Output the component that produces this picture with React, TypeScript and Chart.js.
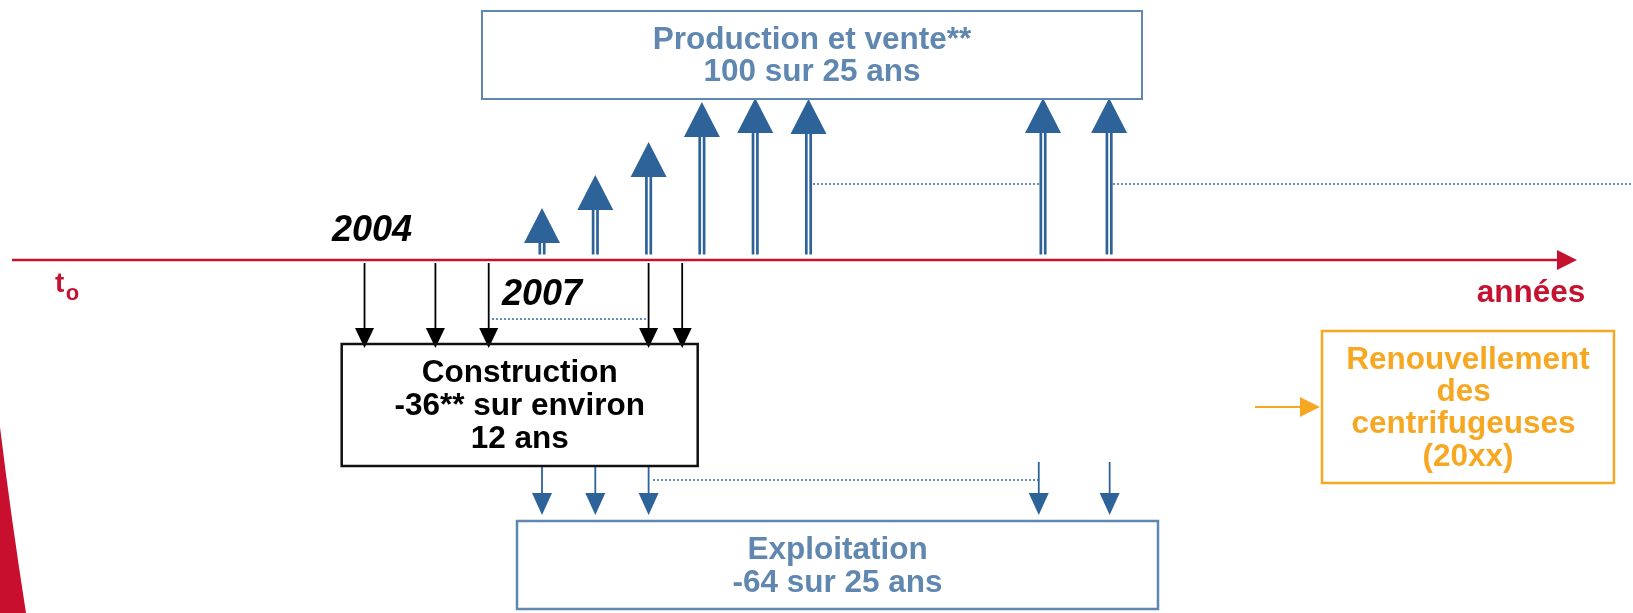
import React, { useEffect, useRef } from "react";
import { Chart, registerables } from "chart.js";

Chart.register(...registerables);

// ---------- scale ranges (x: years, y: schematic level, 0 = time axis) ----------
const X_MIN = 1996.831;
const X_MAX = 2027.469;
const Y_MIN = -353;
const Y_MAX = 260;

// ---------- data ----------
// Production et vente: up arrows (year, level reached)
const productionYears = [2007, 2008, 2009, 2010, 2011, 2012, 2016.4, 2017.64];
const productionLevels = [52, 85, 118, 158, 162, 161, 162, 162];
// Construction: black arrows from the time axis into the construction box
const constructionYears = [2003.67, 2005, 2006, 2009, 2009.63];
// Exploitation: blue arrows from construction into exploitation
const exploitationYears = [2007, 2008, 2009, 2016.32, 2017.65];
const exploitationStartLevels = [-206, -206, -206, -202, -202];

// Text
const productionLines = ["Production et vente**", "100 sur 25 ans"];
const constructionLines = ["Construction", "-36** sur environ", "12 ans"];
const exploitationLines = ["Exploitation", "-64 sur 25 ans"];
const renewalLines = ["Renouvellement", "des ", "centrifugeuses ", "(20xx)"];
const yearLabels = ["2004", "2007"];
const yearLabelYears = [2003.81, 2007.0];
const yearLabelLevels = [19, -45];
const axisStartLabel = "t";
const axisStartSub = "o";
const axisEndLabel = "années";

// ---------- layout (scale units) ----------
const AXIS = { from: 1997.056, headBase: 2026.043, tip: 2026.418 };
const BOX_PROD = { x0: 2005.874, x1: 2018.257, top: 249, bottom: 161 };
const BOX_CONS = { x0: 2003.242, x1: 2009.921, top: -84, bottom: -206 };
const BOX_EXPL = { x0: 2006.531, x1: 2018.557, top: -261, bottom: -349 };
const BOX_RENEW = { x0: 2021.634, x1: 2027.112, top: -71, bottom: -223 };
const DOT_PROD = [[2012.084, 2016.324], [2017.713, X_MAX]];
const DOT_PROD_LEVEL = 76;
const DOT_CONS = [[2006.062, 2008.951]];
const DOT_CONS_LEVEL = -59;
const DOT_EXPL = [[2009.082, 2016.306]];
const DOT_EXPL_LEVEL = -220;
const UP_SHAFT_BASE = 5.5;
const CONS_ARROW = { start: -3, headBase: -68, tip: -88 };
const EXPL_ARROW = { headBase: -233, tip: -255 };
const RENEW_ARROW = { from: 2020.377, headBase: 2021.22, tip: 2021.596, level: -147 };
const SWOOSH = [
  [X_MIN, -167],
  [1997.056, -257],
  [1997.319, -353],
  [X_MIN, -353],
];

// ---------- colours ----------
const RED = "#C41230";
const BLUE = "#2D6399";
const BOX_BLUE = "#5F87B0";
const DOT_BLUE = "#3A72B0";
const ORANGE = "#F7A823";
const FONT = "'Liberation Sans', Arial, Helvetica, sans-serif";

const diagramPlugin = {
  id: "diagram",
  afterDatasetsDraw(chart: any) {
    const ctx: CanvasRenderingContext2D = chart.ctx;
    const xs = chart.scales.x;
    const ys = chart.scales.y;
    const X = (v: number) => xs.getPixelForValue(v);
    const Y = (v: number) => ys.getPixelForValue(v);

    const tri = (pts: number[][], color: string) => {
      ctx.beginPath();
      ctx.moveTo(pts[0][0], pts[0][1]);
      for (let i = 1; i < pts.length; i++) ctx.lineTo(pts[i][0], pts[i][1]);
      ctx.closePath();
      ctx.fillStyle = color;
      ctx.fill();
    };
    const line = (x0: number, y0: number, x1: number, y1: number, color: string, w: number, dash: number[] = []) => {
      ctx.save();
      ctx.beginPath();
      ctx.setLineDash(dash);
      ctx.moveTo(x0, y0);
      ctx.lineTo(x1, y1);
      ctx.strokeStyle = color;
      ctx.lineWidth = w;
      ctx.stroke();
      ctx.restore();
    };
    const box = (b: any, color: string, w: number, lines: string[], textColor: string, gap: number) => {
      const x0 = X(b.x0), x1 = X(b.x1), y0 = Y(b.top), y1 = Y(b.bottom);
      ctx.save();
      ctx.strokeStyle = color;
      ctx.lineWidth = w;
      ctx.strokeRect(x0, y0, x1 - x0, y1 - y0);
      ctx.fillStyle = textColor;
      ctx.font = `bold 31.5px ${FONT}`;
      ctx.textAlign = "center";
      ctx.textBaseline = "alphabetic";
      const cx = (x0 + x1) / 2;
      lines.forEach((t, i) => ctx.fillText(t, cx, y0 + 37.5 + i * gap));
      ctx.restore();
    };

    ctx.save();

    // left red swoosh
    ctx.beginPath();
    ctx.moveTo(X(SWOOSH[0][0]), Y(SWOOSH[0][1]));
    ctx.quadraticCurveTo(X(SWOOSH[1][0]) - 1, Y(SWOOSH[1][1]), X(SWOOSH[2][0]), Y(SWOOSH[2][1]));
    ctx.lineTo(X(SWOOSH[3][0]), Y(SWOOSH[3][1]));
    ctx.closePath();
    ctx.fillStyle = "#C8102E";
    ctx.fill();

    // dotted continuation lines
    DOT_PROD.forEach(([a, b]) => line(X(a), Y(DOT_PROD_LEVEL), X(b), Y(DOT_PROD_LEVEL), DOT_BLUE, 1.6, [2, 2]));
    DOT_CONS.forEach(([a, b]) => line(X(a), Y(DOT_CONS_LEVEL), X(b), Y(DOT_CONS_LEVEL), DOT_BLUE, 1.6, [2, 2]));
    DOT_EXPL.forEach(([a, b]) => line(X(a), Y(DOT_EXPL_LEVEL), X(b), Y(DOT_EXPL_LEVEL), DOT_BLUE, 1.6, [2, 2]));

    // time axis
    const ay = Y(0);
    line(X(AXIS.from), ay, X(AXIS.headBase) + 1, ay, RED, 2.3);
    tri([[X(AXIS.tip), ay], [X(AXIS.headBase), ay - 10], [X(AXIS.headBase), ay + 10]], RED);

    // axis labels
    ctx.fillStyle = RED;
    ctx.textAlign = "left";
    ctx.textBaseline = "alphabetic";
    ctx.font = `bold 28px ${FONT}`;
    const tx = X(1997.863);
    ctx.fillText(axisStartLabel, tx, Y(-32));
    const tw = ctx.measureText(axisStartLabel).width;
    ctx.font = `bold 22px ${FONT}`;
    ctx.fillText(axisStartSub, tx + tw + 1.5, Y(-40));
    ctx.font = `bold 31.5px ${FONT}`;
    ctx.textAlign = "center";
    ctx.fillText(axisEndLabel, X(2025.555), Y(-42));

    // year labels
    ctx.fillStyle = "#000000";
    ctx.font = `italic bold 36px ${FONT}`;
    yearLabels.forEach((t, i) => ctx.fillText(t, X(yearLabelYears[i]), Y(yearLabelLevels[i])));

    // production up arrows (double shaft)
    const meta = chart.getDatasetMeta(0);
    meta.data.forEach((el: any) => {
      const x = el.x, tipY = el.y;
      const headH = 35, half = 18;
      const baseY = Y(UP_SHAFT_BASE);
      line(x - 2.2, baseY, x - 2.2, tipY + headH - 1, BLUE, 2.7);
      line(x + 2.2, baseY, x + 2.2, tipY + headH - 1, BLUE, 2.7);
      tri([[x, tipY], [x - half, tipY + headH], [x + half, tipY + headH]], BLUE);
    });

    // construction arrows (black)
    constructionYears.forEach((yr) => {
      const x = X(yr);
      line(x, Y(CONS_ARROW.start), x, Y(CONS_ARROW.headBase) + 1, "#000000", 1.8);
      tri([[x, Y(CONS_ARROW.tip)], [x - 9.5, Y(CONS_ARROW.headBase)], [x + 9.5, Y(CONS_ARROW.headBase)]], "#000000");
    });

    // exploitation arrows (blue)
    exploitationYears.forEach((yr, i) => {
      const x = X(yr);
      line(x, Y(exploitationStartLevels[i]), x, Y(EXPL_ARROW.headBase) + 1, BLUE, 1.8);
      tri([[x, Y(EXPL_ARROW.tip)], [x - 10, Y(EXPL_ARROW.headBase)], [x + 10, Y(EXPL_ARROW.headBase)]], BLUE);
    });

    // renewal arrow (orange)
    const ry = Y(RENEW_ARROW.level);
    line(X(RENEW_ARROW.from), ry, X(RENEW_ARROW.headBase) + 1, ry, ORANGE, 2);
    tri([[X(RENEW_ARROW.tip), ry], [X(RENEW_ARROW.headBase), ry - 10], [X(RENEW_ARROW.headBase), ry + 10]], ORANGE);

    // boxes
    box(BOX_PROD, BOX_BLUE, 2, productionLines, BOX_BLUE, 32.5);
    box(BOX_CONS, "#111111", 2.5, constructionLines, "#000000", 33);
    box(BOX_EXPL, BOX_BLUE, 2.5, exploitationLines, BOX_BLUE, 33.2);
    box(BOX_RENEW, ORANGE, 2.5, renewalLines, ORANGE, 32.4);

    ctx.restore();
  },
};

export default function App() {
  const canvasRef = useRef<HTMLCanvasElement | null>(null);

  useEffect(() => {
    if (!canvasRef.current) return;
    const chart = new Chart(canvasRef.current, {
      type: "scatter",
      data: {
        datasets: [
          {
            label: "Production et vente",
            data: productionYears.map((x, i) => ({ x, y: productionLevels[i] })),
            pointRadius: 0,
            showLine: false,
          },
          {
            label: "Construction",
            data: constructionYears.map((x) => ({ x, y: 0 })),
            pointRadius: 0,
            showLine: false,
          },
          {
            label: "Exploitation",
            data: exploitationYears.map((x, i) => ({ x, y: exploitationStartLevels[i] })),
            pointRadius: 0,
            showLine: false,
          },
        ],
      },
      options: {
        animation: false,
        responsive: true,
        maintainAspectRatio: false,
        devicePixelRatio: 1,
        layout: { padding: 0 },
        events: [],
        plugins: {
          legend: { display: false },
          tooltip: { enabled: false },
          title: { display: false },
        },
        scales: {
          x: { type: "linear", min: X_MIN, max: X_MAX, display: false },
          y: { type: "linear", min: Y_MIN, max: Y_MAX, display: false },
        },
      },
      plugins: [diagramPlugin],
    });
    return () => chart.destroy();
  }, []);

  return (
    <div style={{ position: "absolute", left: 0, top: 0, width: 1633, height: 613, background: "#ffffff" }}>
      <canvas ref={canvasRef} />
    </div>
  );
}
